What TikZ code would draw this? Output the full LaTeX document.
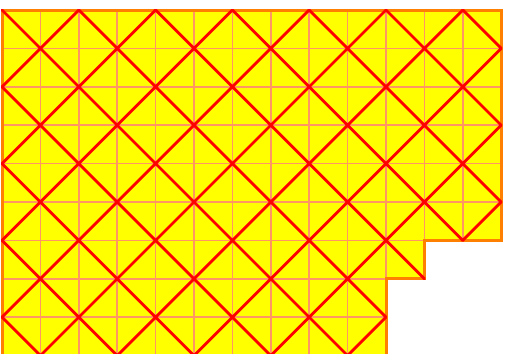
\documentclass[tikz,border=0pt]{standalone}
\definecolor{fillyel}{RGB}{255,255,0}
\definecolor{edgeorange}{RGB}{255,128,0}
\definecolor{gridpink}{RGB}{255,150,100}
\definecolor{diagred}{RGB}{255,0,0}
\tikzset{
  gridline/.style={draw=gridpink, line width=1.5pt},
  edgeline/.style={draw=edgeorange, line width=3pt, line join=miter},
  diagline/.style={draw=diagred, line width=2.8pt, line cap=round}
}
\begin{document}
\begin{tikzpicture}[x=38.4pt,y=-38.4pt]
\useasboundingbox (-2pt,10pt) rectangle (505pt,-344pt);
\def\region{(0,0) -- (13,0) -- (13,6) -- (11,6) -- (11,7) -- (10,7) -- (10,9.5) -- (0,9.5) -- cycle}
\fill[fillyel] \region;
\begin{scope}
  \clip \region;
  \foreach \i in {1,...,12} \draw[gridline] (\i,0) -- (\i,9.5);
  \foreach \j in {1,...,9} \draw[gridline] (0,\j) -- (13,\j);
\end{scope}
\draw[edgeline] \region;
% diagonals: one per cell
\foreach \b in {0,...,5} {
  \foreach \a in {0,...,12} {
    \pgfmathtruncatemacro\s{mod(\a+\b,2)}
    \ifnum\s=0 \draw[diagline] (\a,\b) -- (\a+1,\b+1);
    \else \draw[diagline] (\a+1,\b) -- (\a,\b+1); \fi
  }
}
\foreach \a in {0,...,10} {
  \pgfmathtruncatemacro\s{mod(\a+6,2)}
  \ifnum\s=0 \draw[diagline] (\a,6) -- (\a+1,7);
  \else \draw[diagline] (\a+1,6) -- (\a,7); \fi
}
\foreach \b in {7,8} {
  \foreach \a in {0,...,9} {
    \pgfmathtruncatemacro\s{mod(\a+\b,2)}
    \ifnum\s=0 \draw[diagline] (\a,\b) -- (\a+1,\b+1);
    \else \draw[diagline] (\a+1,\b) -- (\a,\b+1); \fi
  }
}
\end{tikzpicture}
\end{document}
